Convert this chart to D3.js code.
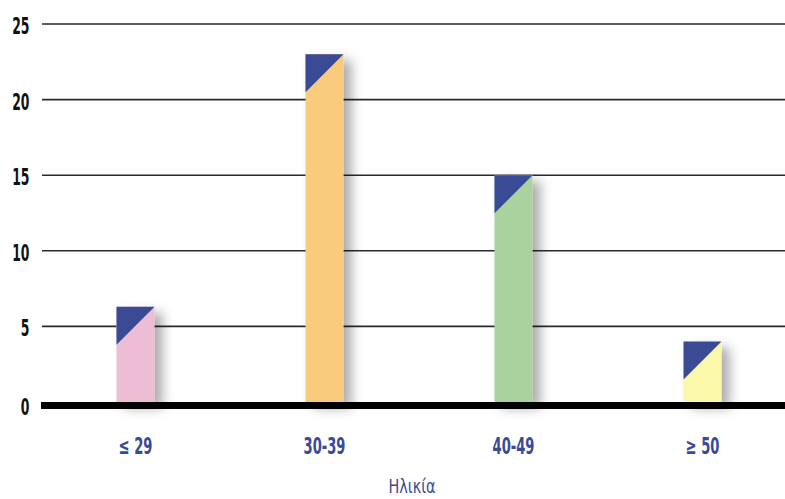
<!DOCTYPE html>
<html>
<head>
<meta charset="utf-8">
<script src="https://cdn.jsdelivr.net/npm/d3@7"></script>
<style>
  body { margin: 0; background: #fff; }
  text { font-family: "DejaVu Sans", sans-serif; }
</style>
</head>
<body>
<div id="chart"></div>
<script>
// data
var ageGroups = ["\u2264 29", "30-39", "40-49", "\u2265 50"];
var values = [6.3, 23, 15, 4];
var barColors = ["#edbdd5", "#f9cb7b", "#a9d29e", "#fcf8aa"];
var yTicks = [0, 5, 10, 15, 20, 25];

var svgWidth = 785, svgHeight = 499;

var svg = d3.select("#chart")
  .append("svg")
  .attr("width", svgWidth)
  .attr("height", svgHeight);

// soft drop shadow behind the bars
var defs = svg.append("defs");
var shadow = defs.append("filter")
  .attr("id", "shadow")
  .attr("x", "-50%").attr("y", "-20%")
  .attr("width", "250%").attr("height", "160%");
shadow.append("feDropShadow")
  .attr("dx", 8).attr("dy", 6)
  .attr("stdDeviation", 6)
  .attr("flood-color", "#000")
  .attr("flood-opacity", 0.33);

// scales
var xScale = d3.scaleBand()
  .domain(ageGroups)
  .range([41, 797]);

var yScale = d3.scaleLinear()
  .domain([0, 25])
  .range([402, 24]);

var barWidth = 38;

// the reference font is a tall condensed face, so squeeze the text sideways
function narrowText(sel, sx) {
  sel.attr("transform", function () {
    var t = d3.select(this);
    return `translate(${t.attr("x")},${t.attr("y")}) scale(${sx},1)`;
  })
  .attr("x", 0).attr("y", 0);
}

// grid lines
svg.append("g")
  .selectAll("line")
  .data(yTicks.filter(d => d > 0))
  .enter()
  .append("line")
  .attr("x1", 42)
  .attr("x2", svgWidth)
  .attr("y1", d => yScale(d))
  .attr("y2", d => yScale(d))
  .attr("stroke", "#2a2a2a")
  .attr("stroke-width", 1.6);

// y labels
svg.append("g")
  .selectAll("text")
  .data(yTicks)
  .enter()
  .append("text")
  .attr("x", 29.5)
  .attr("y", d => d === 0 ? yScale(d) + 13 : yScale(d) + 10)
  .attr("text-anchor", "end")
  .style("font-size", "23px")
  .style("font-weight", "bold")
  .style("fill", "#111")
  .text(d => d)
  .call(narrowText, 0.54);

// bars
var bars = svg.append("g")
  .selectAll("g")
  .data(values)
  .enter()
  .append("g")
  .attr("transform", (d, i) => `translate(${xScale(ageGroups[i]) + xScale.bandwidth() / 2 - barWidth / 2}, 0)`);

bars.append("rect")
  .attr("x", 0)
  .attr("y", d => yScale(d))
  .attr("width", barWidth)
  .attr("height", d => yScale(0) - yScale(d))
  .attr("fill", (d, i) => barColors[i])
  .attr("filter", "url(#shadow)");

// dark blue corner triangle
bars.append("path")
  .attr("d", d => {
    var top = yScale(d);
    return `M0,${top}L${barWidth},${top}L0,${top + barWidth}Z`;
  })
  .attr("fill", "#3b4a94");

// thick base line
svg.append("line")
  .attr("x1", 41)
  .attr("x2", svgWidth)
  .attr("y1", yScale(0) + 3.5)
  .attr("y2", yScale(0) + 3.5)
  .attr("stroke", "#000")
  .attr("stroke-width", 7);

// category labels
svg.append("g")
  .selectAll("text")
  .data(ageGroups)
  .enter()
  .append("text")
  .attr("x", d => xScale(d) + xScale.bandwidth() / 2)
  .attr("y", 454)
  .attr("text-anchor", "middle")
  .style("font-size", "23px")
  .style("font-weight", "bold")
  .style("fill", "#3b4a94")
  .text(d => d)
  .call(narrowText, 0.57);

// axis title
svg.append("text")
  .attr("x", 412)
  .attr("y", 493)
  .attr("text-anchor", "middle")
  .style("font-size", "19.5px")
  .style("fill", "#3b4a94")
  .text("Ηλικία")
  .call(narrowText, 0.74);
</script>
</body>
</html>
